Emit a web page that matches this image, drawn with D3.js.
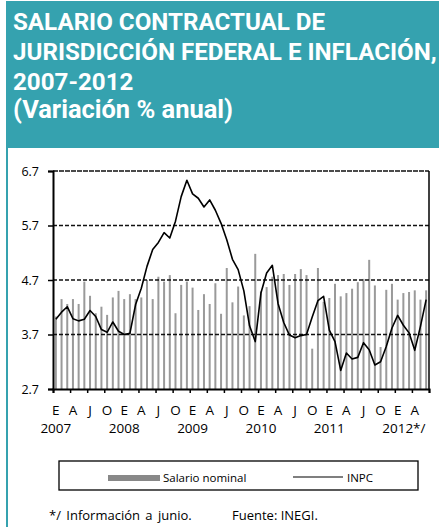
<!DOCTYPE html>
<html>
<head>
<meta charset="utf-8">
<script src="https://cdn.jsdelivr.net/npm/d3@7"></script>
<style>
  html, body { margin: 0; padding: 0; background: #fff; }
  svg { display: block; font-family: "Open Sans", "Noto Sans", sans-serif; }
</style>
</head>
<body>
<div id="chart"></div>
<script>
// Datos: variación % anual, enero 2007 - junio 2012 (66 meses)
const salarioNominal = [
  4.03, 4.35, 4.26, 4.35, 4.26, 4.67, 4.41, 4.09, 4.21, 4.06, 4.38, 4.50,
  4.35, 4.44, 4.35, 4.38, 4.70, 4.35, 4.76, 4.67, 4.79, 4.09, 4.61, 4.67,
  4.56, 4.15, 4.44, 4.26, 4.64, 4.08, 4.92, 4.29, 4.58, 4.05, 4.22, 5.18,
  4.49, 4.57, 4.76, 4.79, 4.81, 4.61, 4.81, 4.90, 4.79, 3.44, 4.92, 4.30,
  4.37, 4.63, 4.40, 4.46, 4.54, 4.66, 4.72, 5.07, 4.60, 3.47, 4.52, 4.63,
  4.34, 4.46, 4.48, 4.51, 4.34, 4.51
];
const inpc = [
  3.98, 4.11, 4.21, 3.99, 3.95, 3.98, 4.14, 4.03, 3.79, 3.74, 3.93, 3.76,
  3.70, 3.72, 4.25, 4.55, 4.95, 5.26, 5.39, 5.57, 5.47, 5.78, 6.23, 6.53,
  6.28, 6.20, 6.04, 6.17, 5.98, 5.74, 5.44, 5.08, 4.89, 4.50, 3.86, 3.57,
  4.46, 4.83, 4.97, 4.27, 3.92, 3.69, 3.64, 3.68, 3.70, 4.02, 4.32, 4.40,
  3.78, 3.57, 3.04, 3.36, 3.25, 3.28, 3.55, 3.42, 3.14, 3.20, 3.48, 3.82,
  4.05, 3.87, 3.73, 3.41, 3.85, 4.34
];
const mesLetras = ["E", "A", "J", "O", "E", "A", "J", "O", "E", "A", "J", "O",
                   "E", "A", "J", "O", "E", "A", "J", "O", "E", "A"];
const anios = ["2007", "2008", "2009", "2010", "2011", "2012"];
const yTicks = [2.7, 3.7, 4.7, 5.7, 6.7];
const titulo = [
  "SALARIO CONTRACTUAL DE",
  "JURISDICCIÓN FEDERAL E INFLACIÓN,",
  "2007-2012",
  "(Variación % anual)"
];

const W = 439, H = 527;
const teal = "#35a2af";
const barColor = "#9a9a9a";

const svg = d3.select("#chart").append("svg")
  .attr("width", W).attr("height", H);

// Encabezado
svg.append("rect").attr("x", 6).attr("y", 1).attr("width", W - 6).attr("height", 147)
  .attr("fill", teal);
svg.append("rect").attr("x", 6).attr("y", 148).attr("width", 2).attr("height", H - 148)
  .attr("fill", teal);

const tituloG = svg.append("g").attr("fill", "#fff")
  .style("font-family", "Roboto, 'Open Sans', sans-serif")
  .style("font-weight", "700");
const baseY = [30, 60, 90, 118];
const tituloTxt = tituloG.selectAll("text").data(titulo).join("text")
  .style("font-size", "20px")
  .text(d => d);
// tamaño común a partir de la línea más larga (~424px de ancho)
const largo = tituloTxt.nodes()[1].getComputedTextLength();
const fs = 20 * 424 / largo;
tituloTxt.style("font-size", fs + "px");
// la última línea: ajustarla a ~220px
const l4 = tituloTxt.nodes()[3];
const fs4 = fs * 220 / l4.getComputedTextLength();
d3.select(l4).style("font-size", fs4 + "px");
// estirar en vertical las tres primeras líneas (altura de mayúsculas ~15px)
tituloTxt.attr("transform", (d, i) => {
  const sy = i === 3 ? 1 : Math.max(1, 15 / (0.711 * fs));
  return `translate(13,${baseY[i]}) scale(1,${sy})`;
});

// Escalas
const mLeft = 53, mRight = 429, mTop = 171, mBottom = 389;
const meses = d3.range(salarioNominal.length);
const x = d3.scaleBand().domain(meses).range([mLeft, mRight]).padding(0);
const xLin = d3.scaleLinear().domain([0, meses.length]).range([mLeft, mRight]);
const y = d3.scaleLinear().domain([2.7, 6.7]).range([mBottom, mTop]);

// Barras
svg.append("g").selectAll("rect").data(salarioNominal).join("rect")
  .attr("x", (d, i) => x(i) + x.bandwidth() / 2 - 1)
  .attr("y", d => y(d))
  .attr("width", 2)
  .attr("height", d => y(2.7) - y(d))
  .attr("fill", barColor);

// Líneas de cuadrícula punteadas
svg.append("g").selectAll("line").data(yTicks.slice(1)).join("line")
  .attr("x1", mLeft).attr("x2", mRight)
  .attr("y1", d => y(d)).attr("y2", d => y(d))
  .attr("stroke", "#111")
  .attr("stroke-width", 1.4)
  .attr("stroke-dasharray", d => d === 6.7 ? "5,1" : "4,2");

// Borde derecho
svg.append("line").attr("x1", mRight).attr("x2", mRight).attr("y1", mTop).attr("y2", mBottom)
  .attr("stroke", "#000").attr("stroke-width", 1.5);

// Línea INPC
svg.append("path").datum(inpc)
  .attr("fill", "none")
  .attr("stroke", "#000")
  .attr("stroke-width", 1.6)
  .attr("stroke-linejoin", "round")
  .attr("d", d3.line().x((d, i) => x(i) + x.bandwidth() / 2).y(d => y(d)));

// Eje Y
const yAxis = svg.append("g")
  .attr("transform", `translate(${mLeft},0)`)
  .call(d3.axisLeft(y).tickValues(yTicks).tickSize(5).tickPadding(9).tickFormat(d3.format(".1f")));
yAxis.select(".domain").attr("stroke-width", 2);
yAxis.selectAll(".tick line").attr("stroke-width", 1.5);
yAxis.selectAll("text").style("font-size", "12.5px").attr("fill", "#000")
  .style("font-family", "'Open Sans', sans-serif");

// Eje X (marcas trimestrales)
const xAxis = svg.append("g")
  .attr("transform", `translate(0,${mBottom})`)
  .call(d3.axisBottom(xLin).tickValues(d3.range(0, meses.length + 1, 3)).tickSize(4).tickFormat(""));
xAxis.select(".domain").attr("stroke-width", 2);
xAxis.selectAll(".tick line").attr("stroke-width", 1.5);

svg.append("g").selectAll("text").data(mesLetras).join("text")
  .attr("x", (d, i) => x(i * 3) + x.bandwidth() / 2)
  .attr("y", 415)
  .attr("text-anchor", "middle")
  .style("font-size", "13.5px")
  .text(d => d);

const aniosTxt = svg.append("g").selectAll("text").data(anios).join("text")
  .attr("y", 433)
  .style("font-size", "13.5px");
aniosTxt.append("tspan").text(d => d);
aniosTxt.filter(d => d === "2012").append("tspan").text("*/");
aniosTxt.attr("x", function(d, i) {
  const w = this.firstChild.getComputedTextLength();
  return x(i * 12) + x.bandwidth() / 2 - w / 2;
});

// Leyenda
const leg = svg.append("g");
leg.append("rect").attr("x", 59).attr("y", 461).attr("width", 359).attr("height", 29)
  .attr("fill", "none").attr("stroke", "#000").attr("stroke-width", 1.3);
leg.append("rect").attr("x", 108).attr("y", 475).attr("width", 52).attr("height", 6)
  .attr("fill", "#888");
leg.append("text").attr("x", 163).attr("y", 482).style("font-size", "11.5px").text("Salario nominal");
leg.append("line").attr("x1", 293).attr("x2", 343).attr("y1", 477).attr("y2", 477)
  .attr("stroke", "#000").attr("stroke-width", 1.2);
leg.append("text").attr("x", 347).attr("y", 482).style("font-size", "11.5px").text("INPC");

// Notas
svg.append("text").attr("x", 49).attr("y", 520).style("font-size", "13px")
  .attr("word-spacing", "2px")
  .text("*/ Información a junio.");
svg.append("text").attr("x", 232).attr("y", 520).style("font-size", "13px")
  .text("Fuente: INEGI.");
</script>
</body>
</html>
